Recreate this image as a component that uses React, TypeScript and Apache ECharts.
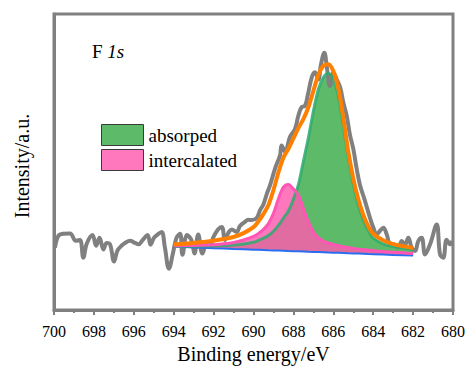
import React, { useEffect, useRef } from 'react';
import * as echarts from 'echarts';

// Raw XPS spectrum (binding energy / eV, intensity a.u.)
const RAW_E = [699.95, 699.78, 699.55, 699.2, 698.9, 698.7, 698.53, 698.36, 698.07, 697.89, 697.72, 697.52, 697.36, 697.19, 696.99, 696.82, 696.59, 696.44, 696.19, 695.94, 695.77, 695.54, 695.31, 695.16, 694.99, 694.81, 694.61, 694.44, 694.24, 694.04, 693.86, 693.68, 693.56, 693.33, 693.1, 692.96, 692.77, 692.56, 692.35, 692.18, 692.03, 691.78, 691.59, 691.43, 691.26, 691.09, 690.84, 690.68, 690.43, 690.26, 690.08, 689.84, 689.67, 689.51, 689.32, 689.17, 688.92, 688.67, 688.59, 688.42, 688.17, 687.92, 687.75, 687.58, 687.42, 687.27, 687.08, 686.92, 686.75, 686.62, 686.45, 686.32, 686.17, 686.0, 685.83, 685.66, 685.5, 685.33, 685.16, 685.0, 684.83, 684.66, 684.41, 684.16, 683.99, 683.82, 683.66, 683.49, 683.32, 683.16, 682.91, 682.74, 682.57, 682.41, 682.24, 682.07, 681.9, 681.74, 681.57, 681.4, 681.15, 680.82, 680.65, 680.49, 680.32, 680.15, 680.05];
const RAW_I = [21.1, 25.1, 25.8, 25.9, 23.4, 23.7, 17.7, 22.4, 25.4, 21.7, 24.4, 20.5, 22.7, 22.2, 16.4, 20.1, 21.9, 22.7, 23.4, 22.7, 22.2, 23.8, 25.4, 22.1, 24.4, 25.5, 26.4, 21.1, 14.0, 19.1, 24.4, 25.8, 18.7, 25.4, 23.4, 19.1, 25.5, 19.1, 22.1, 21.7, 24.4, 27.2, 28.1, 23.7, 26.1, 27.2, 26.4, 28.4, 29.8, 30.5, 30.4, 31.1, 33.8, 35.6, 39.5, 42.2, 47.8, 52.3, 55.6, 53.5, 58.5, 61.2, 65.7, 68.6, 69.0, 72.9, 78.6, 80.3, 77.9, 82.9, 86.9, 81.9, 75.7, 80.2, 77.9, 75.3, 70.2, 65.7, 59.0, 54.5, 47.8, 42.2, 36.8, 31.1, 27.8, 25.5, 26.8, 27.8, 25.5, 22.4, 22.1, 21.1, 23.3, 22.1, 24.4, 21.1, 20.0, 23.3, 24.4, 18.8, 22.2, 28.9, 18.8, 17.7, 23.8, 22.2, 23.4];

// Fit grid
const FIT_E = [694, 693.5, 693, 692.5, 692, 691.5, 691, 690.5, 690, 689.75, 689.5, 689.25, 689, 688.75, 688.5, 688.25, 688, 687.75, 687.5, 687.25, 687, 686.75, 686.5, 686.25, 686, 685.75, 685.5, 685.25, 685, 684.75, 684.5, 684.25, 684, 683.5, 683, 682.5, 682];
const BACKGROUND = [21.4, 21.28, 21.15, 21.03, 20.9, 20.78, 20.65, 20.53, 20.4, 20.34, 20.28, 20.21, 20.15, 20.09, 20.03, 19.96, 19.9, 19.84, 19.78, 19.71, 19.65, 19.59, 19.53, 19.46, 19.4, 19.34, 19.28, 19.21, 19.15, 19.09, 19.03, 18.96, 18.9, 18.78, 18.65, 18.53, 18.4];
// component heights above background
const INTERCALATED = [0.3, 0.5, 0.7, 0.9, 1.2, 1.6, 2.2, 3.2, 4.5, 5.5, 7.0, 9.0, 12.5, 17.5, 21.5, 22.5, 21.0, 19.0, 14.5, 10.0, 6.8, 4.8, 3.8, 3.2, 2.8, 2.4, 2.1, 1.9, 1.7, 1.5, 1.4, 1.3, 1.2, 1.0, 0.9, 0.8, 0.7];
const ABSORPED = [0.2, 0.3, 0.4, 0.6, 0.8, 1.0, 1.3, 1.8, 2.5, 3.2, 4.0, 5.0, 6.5, 8.5, 11.0, 13.5, 17.5, 22.5, 30.5, 38.5, 47.5, 55.0, 59.0, 60.5, 58.5, 53.0, 43.0, 32.5, 23.5, 16.5, 11.5, 8.0, 5.5, 3.6, 2.8, 2.4, 2.1];
const ENVELOPE = [22.2, 22.4, 22.7, 23.0, 23.4, 24.0, 24.7, 26.0, 28.0, 30.0, 32.5, 35.5, 40.5, 46.5, 51.5, 54.5, 58.0, 61.5, 64.5, 68.5, 74.0, 79.5, 82.5, 83.0, 80.7, 75.0, 65.0, 53.5, 44.5, 37.5, 32.2, 28.3, 25.8, 23.6, 22.3, 21.6, 21.0];

const SERIF = 'Liberation Serif';
const GREEN_FILL = '#5cba69';
const GREEN_EDGE = 'rgba(46,170,110,0.85)';
const PINK_FILL = 'rgba(255,90,175,0.82)';
const PINK_EDGE = '#ff55b5';
const FRAME = '#808080';

function areaSeries(name: string, comp: number[], fill: string) {
  return {
    name,
    type: 'custom',
    coordinateSystem: 'cartesian2d',
    data: [[FIT_E[0], BACKGROUND[0]]],
    itemStyle: { color: fill },
    silent: true,
    renderItem: (_params: any, api: any) => {
      const top = FIT_E.map((e, i) => api.coord([e, BACKGROUND[i] + comp[i]]));
      const bottom = FIT_E.map((e, i) => api.coord([e, BACKGROUND[i]])).reverse();
      return {
        type: 'polygon',
        shape: { points: top.concat(bottom) },
        style: { fill },
      };
    },
  };
}

export default function App() {
  const ref = useRef<HTMLDivElement>(null);
  useEffect(() => {
    if (!ref.current) return;
    const chart = echarts.init(ref.current, null, { renderer: 'svg' });
    const raw = RAW_E.map((e, i) => [e, RAW_I[i]]);
    const pinkTop = FIT_E.map((e, i) => [e, BACKGROUND[i] + INTERCALATED[i]]);
    const greenTop = FIT_E.map((e, i) => [e, BACKGROUND[i] + ABSORPED[i]]);
    const bg = FIT_E.map((e, i) => [e, BACKGROUND[i]]);
    const env = FIT_E.map((e, i) => [e, ENVELOPE[i]]);
    chart.setOption({
      animation: false,
      textStyle: { fontFamily: SERIF },
      title: {
        text: '{n|F }{i|1s}',
        left: 87,
        top: 37,
        textStyle: {
          fontFamily: SERIF,
          fontWeight: 'normal',
          fontSize: 19,
          color: '#000',
          rich: {
            n: { fontFamily: SERIF, fontSize: 19, fontWeight: 'normal', color: '#000' },
            i: { fontFamily: SERIF, fontSize: 19, fontWeight: 'normal', color: '#000', fontStyle: 'italic' },
          },
        },
      },
      legend: {
        data: ['absorped', 'intercalated'],
        orient: 'vertical',
        left: 96,
        top: 119,
        itemWidth: 42,
        itemHeight: 21,
        itemGap: 3,
        itemTextGap: 5,
        icon: 'rect',
        selectedMode: false,
        itemStyle: { borderColor: '#3a3a3a', borderWidth: 1 },
        textStyle: { fontFamily: SERIF, fontSize: 19, color: '#000' },
      },
      grid: {
        left: 54,
        right: 19,
        top: 14,
        bottom: 56,
        show: true,
        borderColor: FRAME,
        borderWidth: 3,
        backgroundColor: 'transparent',
      },
      xAxis: {
        type: 'value',
        min: 680,
        max: 700,
        interval: 2,
        inverse: true,
        name: 'Binding energy/eV',
        nameLocation: 'middle',
        nameGap: 31,
        nameTextStyle: { fontFamily: SERIF, fontSize: 20, color: '#000' },
        axisLine: { show: true, lineStyle: { color: FRAME, width: 3 } },
        axisTick: { show: true, length: 5, lineStyle: { color: FRAME, width: 2 } },
        minorTick: { show: true, splitNumber: 2, length: 3, lineStyle: { color: FRAME, width: 2 } },
        splitLine: { show: false },
        axisLabel: { fontFamily: SERIF, fontSize: 16, color: '#000', margin: 13 },
      },
      yAxis: {
        type: 'value',
        min: 0,
        max: 100,
        name: 'Intensity/a.u.',
        nameLocation: 'middle',
        nameGap: 22,
        nameTextStyle: { fontFamily: SERIF, fontSize: 20, color: '#000', padding: [0, 8, 0, 0] },
        axisLine: { show: true, lineStyle: { color: FRAME, width: 3 } },
        axisTick: { show: false },
        axisLabel: { show: false },
        splitLine: { show: false },
      },
      series: [
        {
          name: 'raw',
          type: 'line',
          data: raw,
          smooth: 0.4,
          symbol: 'none',
          lineStyle: { color: '#808080', width: 4 },
          silent: true,
        },
        {
          name: 'background',
          type: 'line',
          data: bg,
          symbol: 'none',
          lineStyle: { color: '#2a6ef0', width: 2 },
          silent: true,
        },
        areaSeries('absorped', ABSORPED, GREEN_FILL),
        {
          name: 'absorped-edge',
          type: 'line',
          data: greenTop,
          smooth: 0.3,
          symbol: 'none',
          lineStyle: { color: GREEN_EDGE, width: 3 },
          silent: true,
        },
        areaSeries('intercalated', INTERCALATED, PINK_FILL),
        {
          name: 'intercalated-edge',
          type: 'line',
          data: pinkTop,
          smooth: 0.3,
          symbol: 'none',
          lineStyle: { color: PINK_EDGE, width: 3 },
          silent: true,
        },
        {
          name: 'envelope',
          type: 'line',
          data: env,
          smooth: 0.3,
          symbol: 'none',
          lineStyle: { color: '#ff7f00', width: 4 },
          silent: true,
        },
      ],
    });
    return () => chart.dispose();
  }, []);
  return (
    <div
      ref={ref}
      style={{ position: 'fixed', left: 0, top: 0, width: 472, height: 369, background: '#fff' }}
    />
  );
}
